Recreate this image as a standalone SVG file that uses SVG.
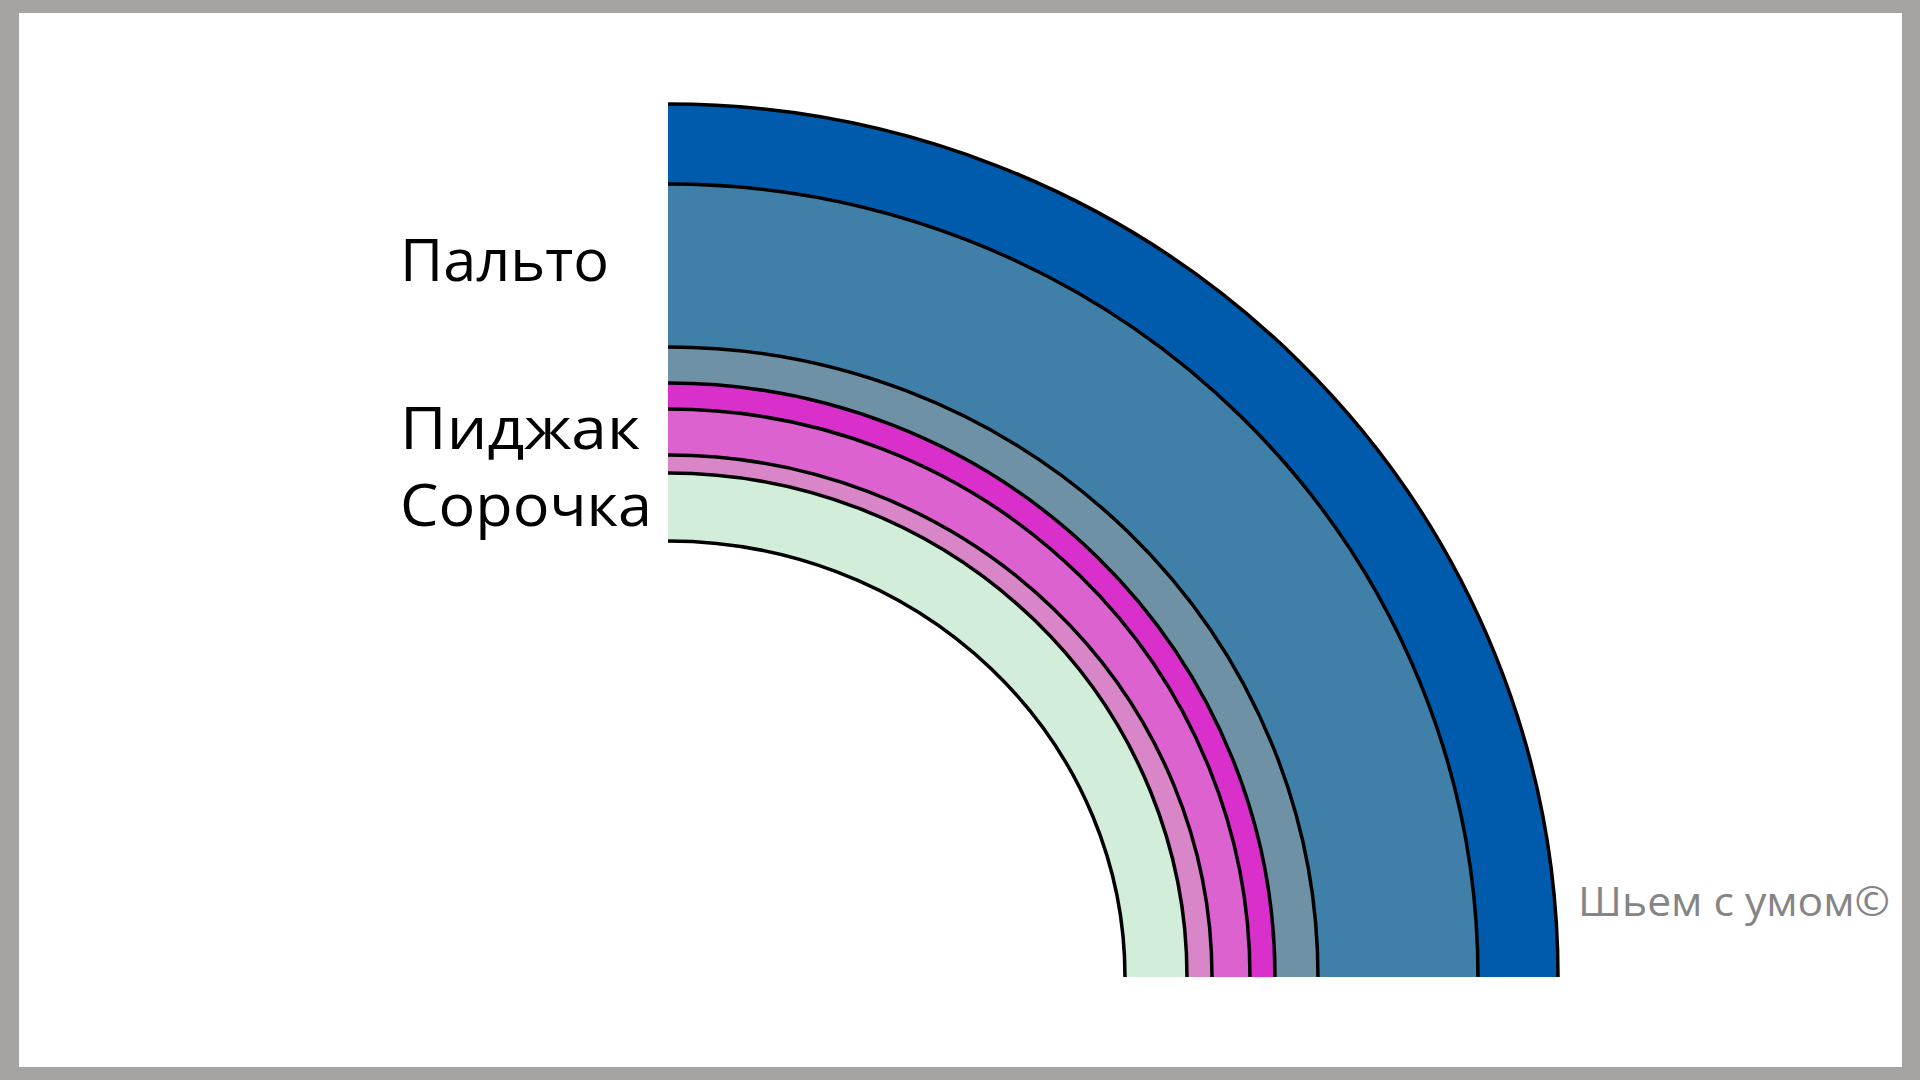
<svg xmlns="http://www.w3.org/2000/svg" width="1920" height="1080" viewBox="0 0 1920 1080">
<style>
.arc{fill:none;stroke:#000;stroke-width:3.5}
.band{stroke:none}
.lbl{font-family:"Open Sans","Noto Sans","Liberation Sans",sans-serif;font-size:58px;fill:#000}
.mark{font-family:"Open Sans","Noto Sans","Liberation Sans",sans-serif;font-size:40px;fill:#858585}
</style>
<rect x="0" y="0" width="1920" height="1080" fill="#A5A4A2"/>
<rect x="19" y="13" width="1883" height="1054" fill="#FFFFFF"/>
<g id="bands">
<path class="band" fill="#005BAC" d="M668 977 L668 104 A890 873 0 0 1 1558 977 Z"/>
<path class="band" fill="#3F7FA8" d="M668 977 L668 184 A810 793 0 0 1 1478 977 Z"/>
<path class="band" fill="#6E91A6" d="M668 977 L668 347 A650 630 0 0 1 1318 977 Z"/>
<path class="band" fill="#D930CC" d="M668 977 L668 383 A607 594 0 0 1 1275 977 Z"/>
<path class="band" fill="#DC62CF" d="M668 977 L668 409 A582 568 0 0 1 1250 977 Z"/>
<path class="band" fill="#D986C8" d="M668 977 L668 455 A544 522 0 0 1 1212 977 Z"/>
<path class="band" fill="#D3EDDB" d="M668 977 L668 473 A519 504 0 0 1 1187 977 Z"/>
<path class="band" fill="#FFFFFF" d="M668 977 L668 541 A457 436 0 0 1 1125 977 Z"/>
</g>
<g id="arcs">
<path class="arc" d="M668 104 A890 873 0 0 1 1558 977"/>
<path class="arc" d="M668 184 A810 793 0 0 1 1478 977"/>
<path class="arc" d="M668 347 A650 630 0 0 1 1318 977"/>
<path class="arc" d="M668 383 A607 594 0 0 1 1275 977"/>
<path class="arc" d="M668 409 A582 568 0 0 1 1250 977"/>
<path class="arc" d="M668 455 A544 522 0 0 1 1212 977"/>
<path class="arc" d="M668 473 A519 504 0 0 1 1187 977"/>
<path class="arc" d="M668 541 A457 436 0 0 1 1125 977"/>
</g>
<g id="label-palto"><text class="lbl" x="400" y="281" textLength="209" lengthAdjust="spacingAndGlyphs">Пальто</text></g>
<g id="label-pidzhak"><text class="lbl" x="400" y="449" textLength="240" lengthAdjust="spacingAndGlyphs">Пиджак</text></g>
<g id="label-sorochka"><text class="lbl" x="400" y="526" textLength="252" lengthAdjust="spacingAndGlyphs">Сорочка</text></g>
<g id="watermark"><text class="mark" x="1578" y="916" textLength="312" lengthAdjust="spacingAndGlyphs">Шьем с умом©</text></g>
</svg>
